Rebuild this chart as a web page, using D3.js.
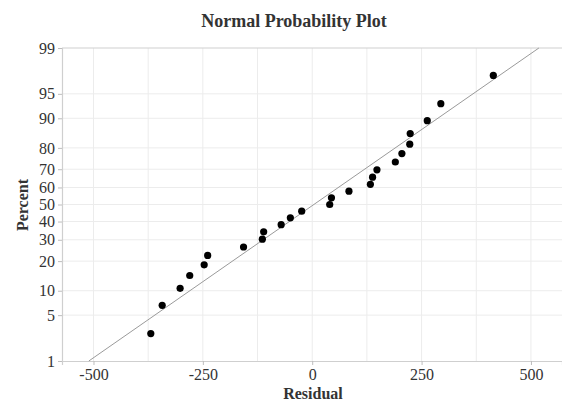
<!DOCTYPE html>
<html>
<head>
<meta charset="utf-8">
<script src="https://cdn.jsdelivr.net/npm/d3@7"></script>
<style>
  html, body { margin: 0; padding: 0; background: #fff; }
  svg { display: block; }
  text { font-family: "Liberation Serif", "DejaVu Serif", serif; }
</style>
</head>
<body>
<svg id="chart" width="562" height="402"></svg>
<script>
// Residuals (sorted ascending)
const residuals = [-369, -343, -302, -280, -247, -239, -157, -114, -111, -71, -50, -24,
                   40, 44, 84, 133, 138, 148, 190, 205, 223, 224, 263, 294, 414];
// Axis ticks
const xTicks = [-500, -250, 0, 250, 500];
const xGrid = [-500, -375, -250, -125, 0, 125, 250, 375, 500];
const percentTicks = [1, 5, 10, 20, 30, 40, 50, 60, 70, 80, 90, 95, 99];
const xExtent = [-572, 571];
const percentExtent = [1, 99];

// Inverse standard normal CDF (Acklam's rational approximation)
function qnorm(p) {
  const a = [-3.969683028665376e+01, 2.209460984245205e+02, -2.759285104469687e+02,
             1.383577518672690e+02, -3.066479806614716e+01, 2.506628277459239e+00];
  const b = [-5.447609879822406e+01, 1.615858368580409e+02, -1.556989798598866e+02,
             6.680131188771972e+01, -1.328068155288572e+01];
  const c = [-7.784894002430293e-03, -3.223964580411365e-01, -2.400758277161838e+00,
             -2.549732539343734e+00, 4.374664141464968e+00, 2.938163982698783e+00];
  const d = [7.784695709041462e-03, 3.224671290700398e-01, 2.445134137142996e+00,
             3.754408661907416e+00];
  const pl = 0.02425, ph = 1 - pl;
  let q, r;
  if (p < pl) {
    q = Math.sqrt(-2 * Math.log(p));
    return (((((c[0]*q+c[1])*q+c[2])*q+c[3])*q+c[4])*q+c[5]) /
           ((((d[0]*q+d[1])*q+d[2])*q+d[3])*q+1);
  } else if (p <= ph) {
    q = p - 0.5; r = q * q;
    return (((((a[0]*r+a[1])*r+a[2])*r+a[3])*r+a[4])*r+a[5])*q /
           (((((b[0]*r+b[1])*r+b[2])*r+b[3])*r+b[4])*r+1);
  } else {
    q = Math.sqrt(-2 * Math.log(1 - p));
    return -(((((c[0]*q+c[1])*q+c[2])*q+c[3])*q+c[4])*q+c[5]) /
            ((((d[0]*q+d[1])*q+d[2])*q+d[3])*q+1);
  }
}

const svg = d3.select("#chart");
const margin = { top: 48, right: 0, bottom: 41, left: 62 };
const W = 562, H = 402;
const serif = "'Liberation Serif', 'Times New Roman', serif";

const x = d3.scaleLinear().domain(xExtent).range([margin.left, W - margin.right]);
const y = d3.scaleLinear()
  .domain([qnorm(percentExtent[0] / 100), qnorm(percentExtent[1] / 100)])
  .range([H - margin.bottom, margin.top]);
const yP = p => y(qnorm(p / 100));

// Median-rank plotting positions
const n = residuals.length;
const sorted = residuals.slice().sort(d3.ascending);
const points = sorted.map((v, i) => ({ v, p: 100 * (i + 1 - 0.3) / (n + 0.4) }));

// Grid
const grid = svg.append("g");
grid.selectAll("line.v").data(xGrid).join("line")
  .attr("x1", d => x(d)).attr("x2", d => x(d))
  .attr("y1", margin.top).attr("y2", H - margin.bottom)
  .attr("stroke", "#ececec").attr("stroke-width", 1);
grid.selectAll("line.h").data(percentTicks.slice(1, -1)).join("line")
  .attr("x1", margin.left).attr("x2", W - margin.right)
  .attr("y1", d => yP(d)).attr("y2", d => yP(d))
  .attr("stroke", "#ececec").attr("stroke-width", 1);

// Top border
svg.append("line")
  .attr("x1", margin.left).attr("x2", W - margin.right)
  .attr("y1", margin.top).attr("y2", margin.top)
  .attr("stroke", "#d0d0d0").attr("stroke-width", 1.2);

// Axes
const xAxis = svg.append("g")
  .attr("transform", `translate(0,${H - margin.bottom})`)
  .call(d3.axisBottom(x).tickValues(xTicks).tickSize(4).tickPadding(4)
    .tickFormat(d => String(d)));
const yAxis = svg.append("g")
  .attr("transform", `translate(${margin.left},0)`)
  .call(d3.axisLeft(y).tickValues(percentTicks.map(p => qnorm(p / 100)))
    .tickSize(4).tickPadding(3)
    .tickFormat((d, i) => String(percentTicks[i])));
[xAxis, yAxis].forEach(g => {
  g.attr("font-family", serif).attr("font-size", 16);
  g.select(".domain").attr("stroke", "#cfcfcf").attr("stroke-width", 1.2);
  g.selectAll(".tick line").attr("stroke", "#bdbdbd");
  g.selectAll(".tick text").attr("fill", "#333")
    .style("font-size", "16px").style("font-family", serif);
});

// Fitted normal line from sample mean and standard deviation
const mu = d3.mean(residuals), sd = d3.deviation(residuals);
const zLo = y.domain()[0], zHi = y.domain()[1];
svg.append("line")
  .attr("x1", x(mu + sd * zLo)).attr("y1", y(zLo))
  .attr("x2", x(mu + sd * zHi)).attr("y2", y(zHi))
  .attr("stroke", "#9a9a9a").attr("stroke-width", 1);

// Points
svg.append("g").selectAll("circle").data(points).join("circle")
  .attr("cx", d => x(d.v)).attr("cy", d => yP(d.p))
  .attr("r", 3.6).attr("fill", "#000");

// Titles
svg.append("text")
  .attr("x", 294).attr("y", 27).attr("text-anchor", "middle")
  .attr("fill", "#333").style("font-size", "18px").style("font-weight", "bold")
  .text("Normal Probability Plot");
svg.append("text")
  .attr("x", 313).attr("y", 399).attr("text-anchor", "middle")
  .attr("fill", "#333").style("font-size", "16px").style("font-weight", "bold")
  .text("Residual");
svg.append("text")
  .attr("transform", "translate(28,205) rotate(-90)").attr("text-anchor", "middle")
  .attr("fill", "#333").style("font-size", "16px").style("font-weight", "bold")
  .text("Percent");
</script>
</body>
</html>
